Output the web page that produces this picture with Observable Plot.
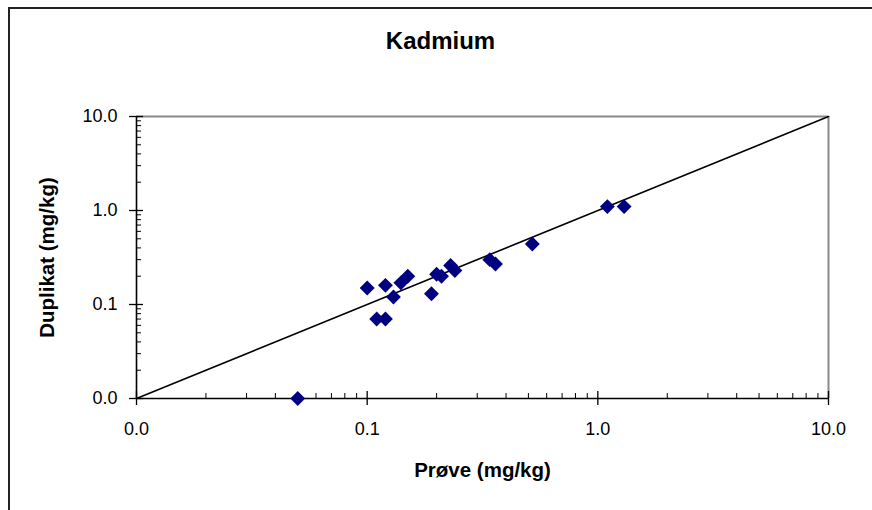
<!DOCTYPE html>
<html>
<head>
<meta charset="utf-8">
<script src="https://cdn.jsdelivr.net/npm/d3@7"></script>
<script src="https://cdn.jsdelivr.net/npm/@observablehq/plot@0.6"></script>
<style>
  html, body { margin: 0; padding: 0; background: white; overflow: hidden; }
  #wrap { position: relative; width: 872px; height: 510px; overflow: hidden; }
  #frame { position: absolute; left: 8px; top: 7px; width: 900px; height: 600px; border: 2px solid #222; pointer-events: none; box-sizing: border-box; }
</style>
</head>
<body>
<div id="wrap"><div id="chart"></div><div id="frame"></div></div>
<script>
// Data
const title = "Kadmium";
const xLabel = "Prøve (mg/kg)";
const yLabel = "Duplikat (mg/kg)";
const prove    = [0.10, 0.12, 0.13, 0.11, 0.12, 0.14, 0.15, 0.19, 0.20, 0.21, 0.23, 0.24, 0.34, 0.36, 0.52, 1.1, 1.3, 0.05];
const duplikat = [0.15, 0.16, 0.12, 0.07, 0.07, 0.17, 0.20, 0.13, 0.21, 0.20, 0.26, 0.23, 0.30, 0.27, 0.44, 1.1, 1.1, 0.01];
const majorTicks = [0.01, 0.1, 1, 10];
const majorTickLabels = ["0.0", "0.1", "1.0", "10.0"];
const minorTicks = [0.02,0.03,0.04,0.05,0.06,0.07,0.08,0.09, 0.2,0.3,0.4,0.5,0.6,0.7,0.8,0.9, 2,3,4,5,6,7,8,9];
const diagonal = [0.01, 10];

const points = prove.map((p, i) => ({x: p, y: duplikat[i]}));
const labelOf = v => majorTickLabels[majorTicks.indexOf(v)];

const chart = Plot.plot({
  width: 872,
  height: 510,
  marginLeft: 136,
  marginRight: 44,
  marginTop: 116,
  marginBottom: 112,
  x: {type: "log", domain: [0.01, 10], axis: null},
  y: {type: "log", domain: [0.01, 10], axis: null},
  style: {fontFamily: "'Liberation Sans', Arial, sans-serif", background: "white", color: "black"},
  marks: [
    Plot.ruleY([10], {stroke: "#8a8a8a", strokeWidth: 2}),
    Plot.ruleX([10], {stroke: "#8a8a8a", strokeWidth: 2}),
    Plot.line(diagonal, {x: d => d, y: d => d, stroke: "black", strokeWidth: 1.6}),
    // x axis ticks
    Plot.axisX(minorTicks, {tickSize: -5, tickFormat: () => "", label: null, strokeWidth: 1}),
    Plot.axisX(majorTicks, {tickSize: -7, tickFormat: () => "", label: null, strokeWidth: 1.3}),
    Plot.axisX(majorTicks, {tickSize: 7, tickPadding: 17, tickFormat: labelOf, label: null, fontSize: 18, strokeWidth: 1.3}),
    // y axis ticks
    Plot.axisY(minorTicks, {tickSize: -5, tickFormat: () => "", label: null, strokeWidth: 1}),
    Plot.axisY(majorTicks, {tickSize: -7, tickFormat: () => "", label: null, strokeWidth: 1.3}),
    Plot.axisY(majorTicks, {tickSize: 7, tickPadding: 12, tickFormat: labelOf, label: null, fontSize: 18, strokeWidth: 1.3}),
    Plot.ruleY([0.01], {stroke: "black", strokeWidth: 1.6}),
    Plot.ruleX([0.01], {stroke: "black", strokeWidth: 1.6}),
    Plot.dot(points, {x: "x", y: "y", symbol: "diamond2", r: 6.7, fill: "#000080", stroke: null}),
    Plot.text([title], {frameAnchor: "top", dy: -75, dx: -42, lineAnchor: "middle", textAnchor: "middle", fontSize: 24, fontWeight: "bold"}),
    Plot.text([xLabel], {frameAnchor: "bottom", dy: 72, lineAnchor: "middle", textAnchor: "middle", fontSize: 20.5, fontWeight: "bold"}),
    Plot.text([yLabel], {frameAnchor: "left", dx: -89, rotate: -90, lineAnchor: "middle", textAnchor: "middle", fontSize: 20.5, fontWeight: "bold"})
  ]
});
document.getElementById("chart").appendChild(chart);
</script>
</body>
</html>
